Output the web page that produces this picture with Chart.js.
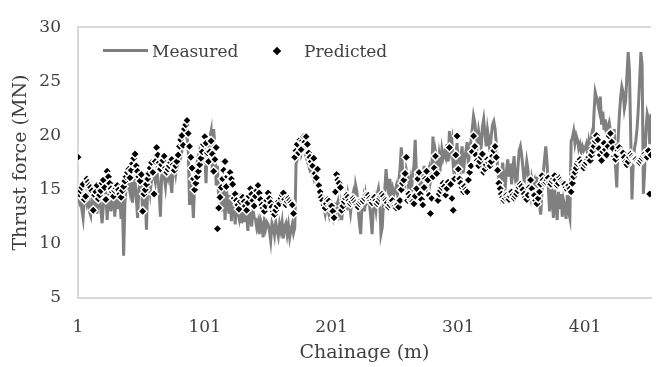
<!DOCTYPE html>
<html>
<head>
<meta charset="utf-8">
<script src="https://cdn.jsdelivr.net/npm/chart.js@4.4.1/dist/chart.umd.min.js"></script>
<style>
  body { margin: 0; background: #fff; }
  #wrap { position: relative; width: 657px; height: 367px; }
  .lg { position: absolute; font: 17px 'DejaVu Serif'; line-height: 20px; color: #404040; white-space: nowrap; }
</style>
</head>
<body>
<div id="wrap">
  <canvas id="chart" width="657" height="367"></canvas>
  <span class="lg" style="left:103px;top:49px;width:45px;height:3px;background:#7f7f7f"></span>
  <span class="lg" style="left:152px;top:41px">Measured</span>
  <span class="lg" style="left:274px;top:48px;width:6px;height:6px;background:#000;transform:rotate(45deg)"></span>
  <span class="lg" style="left:304px;top:41px">Predicted</span>
</div>
<script>
// thrust force along the tunnel, one value per chainage step (MN)
const measured = [
  14.3, 13.9, 14.5, 13.2, 12.4, 14.2, 14.6, 13.8, 14.4, 13.0,
  12.6, 14.1, 14.4, 13.6, 14.0, 12.8, 14.3, 14.5, 13.1, 11.9,
  13.5, 14.3, 14.7, 12.2, 14.4, 14.6, 13.0, 14.2, 14.5, 12.5,
  14.3, 13.2, 14.6, 14.0, 12.3, 14.2, 8.9, 13.8, 15.2, 15.6,
  15.5, 14.8, 15.7, 13.8, 15.4, 15.9, 14.2, 12.4, 15.0, 15.6,
  15.8, 12.9, 15.3, 14.6, 11.3, 15.5, 16.0, 14.8, 15.9, 16.2,
  16.3, 15.7, 16.8, 16.1, 14.9, 12.5, 16.4, 17.0, 16.2, 15.3,
  16.8, 16.2, 17.1, 15.8, 14.7, 16.9, 17.3, 16.5, 17.6, 17.2,
  17.5, 18.0, 18.6, 19.2, 20.0, 20.8, 20.2, 18.5, 13.6, 15.5,
  14.8, 12.4, 15.5, 16.8, 17.5, 16.4, 18.2, 17.6, 18.9, 19.3,
  18.2, 15.6, 19.4, 17.9, 19.8, 20.4, 16.5, 20.6, 19.0, 15.4,
  17.2, 14.1, 15.6, 13.0, 15.8, 14.6, 12.2, 15.1, 14.0, 12.8,
  14.5, 12.1, 14.8, 13.6, 11.8, 14.2, 13.0, 12.4, 13.7, 11.9,
  13.2, 12.0, 13.4, 12.6, 11.2, 13.1, 12.8, 11.6, 13.3, 12.4,
  12.3, 11.5, 12.0, 10.9, 12.2, 11.8, 10.6, 12.1, 11.4, 12.0,
  11.8, 11.2, 10.3, 11.9, 11.5, 10.8, 12.0, 11.3, 10.7, 11.8,
  11.2, 12.0, 10.5, 11.6, 11.9, 10.9, 11.7, 10.6, 11.3, 11.8,
  11.0, 11.5, 17.4, 17.8, 18.6, 19.0, 18.3, 18.8, 19.2, 18.5,
  18.0, 17.6, 17.2, 16.8, 17.0, 16.4, 16.0, 16.5, 15.8, 16.2,
  15.0, 14.5, 13.8, 14.2, 13.4, 12.8, 13.6, 13.2, 12.7, 13.5,
  13.2, 12.6, 13.8, 12.4, 13.5, 13.9, 12.9, 13.6, 12.2, 13.4,
  13.6, 14.2, 13.1, 14.5, 13.8, 12.9, 14.0, 14.6, 13.5, 15.4,
  14.8, 13.2, 11.9, 10.9, 13.5, 14.2, 13.0, 14.5, 13.8, 14.0,
  13.6, 12.4, 10.9, 13.5, 14.1, 13.2, 14.6, 15.1, 14.0, 10.9,
  11.5, 13.8, 15.0, 16.9, 15.5, 14.6, 16.0, 14.8, 15.2, 14.5,
  14.8, 15.3, 14.6, 15.8, 16.9, 18.9, 17.0, 16.2, 15.5, 16.8,
  16.2, 15.0, 15.8, 14.6, 16.5, 17.2, 19.6, 16.4, 15.2, 16.0,
  15.4, 16.8, 15.0, 17.2, 16.1, 15.3, 16.6, 17.0, 15.8, 16.5,
  19.9, 17.0, 18.5, 17.8, 16.5, 18.2, 17.4, 18.7, 17.9, 18.4,
  18.0, 19.2, 17.6, 20.4, 18.8, 19.5, 17.1, 16.2, 18.0, 19.3,
  17.5, 15.8, 18.2, 19.0, 16.5, 17.8, 18.6, 19.4, 17.2, 18.8,
  19.5, 20.6, 21.8, 21.2, 20.0, 19.2, 20.4, 19.6, 18.8, 20.8,
  21.5, 20.2, 19.0, 20.5, 19.6, 18.5, 20.0, 21.0, 21.3, 20.6,
  19.2, 17.0, 15.8, 14.9, 16.4, 17.5, 16.0, 15.2, 16.8, 17.8,
  16.2, 17.4, 15.5, 16.8, 18.1, 16.0, 15.2, 17.0, 18.6, 19.0,
  18.2, 17.0, 15.6, 16.5, 17.6, 16.8, 15.2, 14.5, 16.0, 15.4,
  15.8, 14.5, 16.2, 15.0, 13.6, 12.7, 14.8, 16.5, 17.8, 19.0,
  17.5, 15.2, 13.0, 15.8, 14.2, 12.4, 15.0, 13.6, 12.2, 14.8,
  13.2, 14.6, 12.5, 14.0, 13.4, 12.3, 14.5, 13.0, 12.4, 19.5,
  19.8, 20.4, 19.3, 20.0, 19.6, 18.8, 19.2, 18.5, 19.0, 18.6,
  18.8, 19.2, 18.4, 19.5, 18.9, 19.8, 19.0, 22.0, 24.0, 23.5,
  23.0, 22.4, 23.6, 21.0, 22.2, 20.5, 21.5, 19.8, 20.8, 21.2,
  20.4, 19.2, 18.4, 20.6, 17.2, 15.2, 19.5, 21.8, 23.5, 24.5,
  24.0, 22.5, 23.2, 25.5, 27.7, 26.0, 20.0, 14.1, 17.5, 18.8,
  19.5, 20.6, 22.5, 25.0, 27.7, 26.5, 14.6, 16.8, 20.5, 22.0,
  21.5, 19.2, 22.0
];

const predicted = [
  18.0, 14.6, 14.9, 15.2, 15.5, 14.1, 14.4, 16.0, 15.7, 15.4,
  15.2, 14.9, 13.1, 14.5, 14.8, 15.4, 14.15, 14.5, 14.9, 15.6,
  15.9, 15.2, 14.1, 16.7, 16.2, 15.6, 15.1, 14.8, 14.4, 14.9,
  15.1, 15.4, 15.0, 14.6, 14.3, 14.9, 15.3, 15.8, 16.2, 16.6,
  16.9, 16.1, 16.8, 17.4, 17.9, 18.3, 17.2, 16.7, 16.2, 15.8,
  16.4, 13.0, 14.6, 15.0, 15.5, 16.0, 16.5, 17.0, 17.5, 16.6,
  14.6, 17.6, 18.9, 18.2, 17.5, 16.9, 17.3, 17.7, 18.1, 17.0,
  16.6, 16.9, 17.2, 17.5, 17.8, 17.3, 16.8, 17.2, 17.6, 18.2,
  19.0, 19.6, 20.0, 19.1, 20.6, 21.0, 21.4, 20.2, 19.0, 18.0,
  17.0, 16.0, 15.0, 15.6, 16.2, 16.7, 17.3, 17.9, 18.5, 19.2,
  19.9, 19.3, 18.4, 17.6, 18.5, 19.5, 18.3, 16.7, 17.8, 18.9,
  11.4, 13.3, 14.3, 15.2, 16.0, 16.8, 17.6, 15.3, 16.2, 16.6,
  16.6, 16.0, 15.5, 14.2, 14.6, 14.0, 13.6, 13.2, 13.9, 14.4,
  14.3, 13.9, 13.5, 13.1, 13.8, 14.4, 15.1, 14.6, 14.0, 13.5,
  14.4, 14.9, 15.4, 14.7, 14.1, 13.6, 13.3, 13.0, 13.5, 14.0,
  14.7, 14.2, 13.8, 13.4, 13.0, 12.7, 13.1, 13.5, 13.9, 13.7,
  14.2, 14.5, 14.7, 14.1, 13.6, 13.9, 14.2, 14.0, 13.8, 13.6,
  12.8, 18.0, 18.6, 19.2, 18.4, 19.6, 18.7, 19.5, 19.9, 19.4,
  19.9, 19.2, 18.4, 18.0, 17.6, 17.2, 17.9, 16.5, 16.1, 16.9,
  15.4, 14.8, 14.3, 14.0, 13.6, 13.3, 13.7, 14.1, 13.95, 13.6,
  13.5, 13.0, 12.4, 14.8, 16.4, 15.9, 15.6, 15.2, 13.1, 13.5,
  13.9, 14.2, 14.5, 14.3, 14.0, 13.7, 13.9, 14.2, 14.0, 13.8,
  13.6, 13.4, 13.7, 13.9, 14.1, 13.95, 14.2, 14.5, 14.3, 14.5,
  14.2, 14.0, 13.8, 14.1, 14.3, 14.0, 13.7, 13.9, 14.2, 14.4,
  14.6, 14.4, 14.1, 14.0, 13.8, 13.4, 13.6, 13.9, 14.0, 13.6,
  13.5, 13.3, 13.6, 13.4, 14.0, 15.0, 15.6, 15.9, 16.5, 18.0,
  14.0, 14.6, 14.3, 14.0, 13.9, 13.7, 14.4, 15.1, 16.0, 16.6,
  14.6, 14.1, 13.6, 15.2, 16.0, 16.7, 15.9, 14.5, 12.8, 14.2,
  16.2, 17.0, 18.1, 16.5, 14.0, 14.6, 14.9, 15.2, 15.6, 15.3,
  14.5, 15.1, 15.7, 18.9, 15.5, 14.2, 13.1, 16.0, 18.2, 19.95,
  16.9, 16.0, 15.6, 15.2, 14.8, 15.3, 15.0, 14.8, 15.9, 16.6,
  17.2, 18.5, 19.95, 19.0, 18.2, 17.7, 17.2, 17.6, 18.0, 18.3,
  16.6, 16.9, 17.3, 17.8, 17.5, 17.2, 17.6, 18.1, 18.6, 19.0,
  18.0, 16.8, 15.6, 15.1, 14.6, 14.3, 14.0, 14.2, 14.5, 14.3,
  14.1, 14.4, 14.8, 14.5, 14.2, 14.4, 14.6, 14.9, 15.2, 15.5,
  15.3, 15.0, 14.6, 14.3, 14.1, 14.5, 15.2, 15.9, 15.1, 14.5,
  14.5, 14.0, 13.7, 14.2, 14.8, 15.5, 16.3, 15.9, 15.6, 15.7,
  15.9, 16.1, 15.7, 15.5, 15.8, 16.0, 16.3, 15.9, 15.4, 15.6,
  16.1, 15.9, 15.7, 15.6, 15.5, 15.2, 15.0, 15.4, 15.1, 14.8,
  15.6, 16.2, 16.6, 17.0, 17.4, 17.6, 17.8, 17.5, 17.2, 17.0,
  17.3, 17.5, 17.8, 18.0, 17.7, 18.2, 18.6, 19.0, 19.5, 20.0,
  19.6, 18.8, 18.2, 17.7, 18.5, 19.3, 18.7, 18.2, 19.0, 19.95,
  20.2, 19.4, 18.8, 18.1, 17.8, 18.2, 18.6, 18.9, 18.5, 18.4,
  18.4, 18.0, 17.6, 17.3, 17.6, 18.0, 18.3, 18.1, 17.9, 17.8,
  17.8, 17.6, 17.5, 17.5, 17.7, 17.9, 18.1, 18.3, 18.1, 18.0,
  18.6, 14.6, 18.2
];

const chainage = measured.map((_, i) => i + 1);
const xTicks = [1, 101, 201, 301, 401];
const yTicks = [5, 10, 15, 20, 25, 30];

const toXY = arr => arr.map((v, i) => ({ x: chainage[i], y: v }));
const frame = '#d9d9d9';
const textCol = '#404040';

Chart.defaults.font.family = "'DejaVu Serif', serif";
Chart.defaults.color = textCol;

new Chart(document.getElementById('chart').getContext('2d'), {
  type: 'line',
  data: {
    datasets: [{
      label: 'Predicted',
      data: toXY(predicted),
      showLine: false,
      pointStyle: 'rectRot',
      pointRadius: 4.5,
      pointBackgroundColor: '#000',
      pointBorderColor: '#fff',
      pointBorderWidth: 1.5,
      order: 0
    }, {
      label: 'Measured',
      data: toXY(measured),
      borderColor: '#808080',
      borderWidth: 3,
      pointRadius: 0,
      tension: 0,
      order: 1
    }]
  },
  options: {
    responsive: false,
    animation: false,
    devicePixelRatio: 1,
    layout: { padding: { top: 22, right: 0, left: 0, bottom: 0 } },
    plugins: { legend: { display: false }, tooltip: { enabled: false } },
    scales: {
      x: {
        type: 'linear',
        min: 1,
        max: chainage.length,
        afterBuildTicks: s => { s.ticks = xTicks.map(v => ({ value: v })); },
        afterFit: s => { s.height = 69; },
        grid: { display: false, drawTicks: false },
        border: { display: true, color: frame, width: 2 },
        ticks: { padding: 19, maxRotation: 0, font: { size: 17 }, color: textCol },
        title: { display: true, text: 'Chainage (m)', font: { size: 19 }, color: textCol, padding: { top: 0, bottom: 3 } }
      },
      y: {
        min: 5,
        max: 30,
        afterBuildTicks: s => { s.ticks = yTicks.map(v => ({ value: v })); },
        afterFit: s => { s.width = 78; },
        grid: {
          drawTicks: false,
          color: c => (c.tick && c.tick.value === 30 ? frame : 'transparent'),
          lineWidth: 2
        },
        border: { display: true, color: frame, width: 2 },
        ticks: { padding: 17, font: { size: 17 }, color: textCol },
        title: { display: true, text: 'Thrust force (MN)', font: { size: 19 }, color: textCol, padding: { top: 10, bottom: 0 } }
      }
    }
  }
});
</script>
</body>
</html>
